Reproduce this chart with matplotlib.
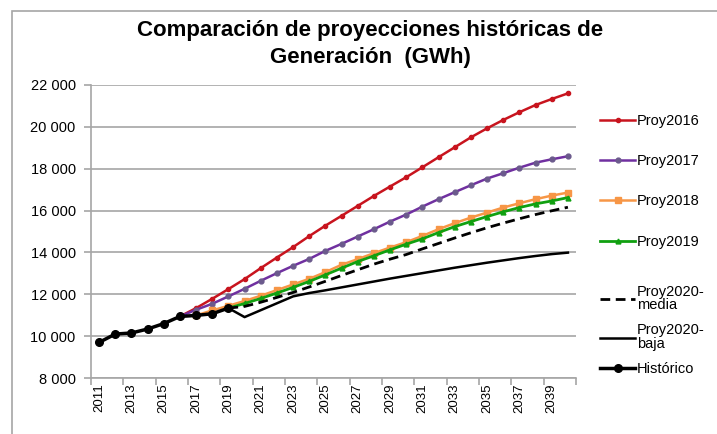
#%%
# imports
import numpy as np
import matplotlib
matplotlib.use('Agg')
import matplotlib.pyplot as plt
from matplotlib.patches import Rectangle
from matplotlib.ticker import FuncFormatter, FixedLocator

plt.rcParams['font.family'] = ['Liberation Sans', 'DejaVu Sans']

#%%
# data (GWh)
years = list(range(2011, 2041))

hist_years = list(range(2011, 2020))
historico = [9700, 10100, 10150, 10340, 10600, 10940, 10990, 11070, 11340]

p2016_years = list(range(2016, 2041))
proy2016 = [10940, 11340, 11785, 12248, 12725, 13250, 13757, 14253, 14780, 15280,
            15750, 16225, 16700, 17150, 17595, 18070, 18550, 19025, 19500, 19930,
            20330, 20700, 21045, 21330, 21600]

p2017_years = list(range(2016, 2041))
proy2017 = [10940, 11260, 11547, 11900, 12262, 12645, 13010, 13360, 13690, 14075,
            14410, 14760, 15110, 15475, 15810, 16190, 16545, 16880, 17210, 17530,
            17785, 18050, 18290, 18450, 18595]

p2018_years = list(range(2017, 2041))
proy2018 = [10990, 11230, 11450, 11680, 11930, 12200, 12470, 12740, 13060, 13410,
            13680, 13965, 14235, 14490, 14790, 15110, 15400, 15665, 15905, 16145,
            16350, 16545, 16715, 16860]

p2019_years = list(range(2019, 2041))
proy2019 = [11340, 11560, 11800, 12060, 12330, 12615, 12930, 13250, 13565, 13840,
            14125, 14395, 14650, 14950, 15235, 15475, 15715, 15940, 16145, 16320,
            16460, 16620]

p2020_years = list(range(2019, 2041))
proy2020_media = [11340, 11420, 11620, 11850, 12090, 12350, 12620, 12900, 13170, 13440,
                  13680, 13900, 14170, 14430, 14690, 14940, 15180, 15400, 15610, 15810,
                  15990, 16160]
proy2020_baja = [11340, 10910, 11240, 11570, 11900, 12060, 12190, 12330, 12470, 12610,
                 12750, 12880, 13010, 13140, 13270, 13390, 13510, 13620, 13730, 13830,
                 13920, 13990]

title = 'Comparación de proyecciones históricas de\nGeneración  (GWh)'

#%%
# figure
fig = plt.figure(figsize=(7.17, 4.34), dpi=100)
ax = fig.add_axes([91/717, 56/434, 485/717, 293/434])

# outer frame
fig.patches.append(Rectangle((12/717, -0.1), 1.2, (434-11)/434 + 0.1,
                             transform=fig.transFigure, fill=False,
                             edgecolor='#a6a6a6', linewidth=1.2))

grid_c = '#a6a6a6'

# series
l16, = ax.plot(p2016_years, proy2016, color='#c8141e', lw=1.8, marker='o', ms=3,
               label='Proy2016', zorder=3)
l17, = ax.plot(p2017_years, proy2017, color='#7030a0', lw=1.8, marker='o', ms=3.5,
               mfc='#6b5a8c', mec='#6b5a8c', label='Proy2017', zorder=3)
l18, = ax.plot(p2018_years, proy2018, color='#f79646', lw=1.8, marker='s', ms=4,
               label='Proy2018', zorder=3)
l19, = ax.plot(p2019_years, proy2019, color='#10a010', lw=2.0, marker='^', ms=3.5,
               label='Proy2019', zorder=4)
lmed, = ax.plot(p2020_years, proy2020_media, color='black', lw=2.0, ls=(0, (3.5, 2)),
                label='Proy2020-\nmedia', zorder=4)
lbaj, = ax.plot(p2020_years, proy2020_baja, color='black', lw=1.8,
                label='Proy2020-\nbaja', zorder=4)
lhis, = ax.plot(hist_years, historico, color='black', lw=2.5, marker='o', ms=5.5,
                label='Histórico', zorder=5)

# axes
ax.set_xlim(2010.5, 2040.5)
ax.set_ylim(8000, 22000)
ax.set_yticks(np.arange(8000, 22001, 2000))
ax.yaxis.set_major_formatter(FuncFormatter(lambda v, p: f'{v:,.0f}'.replace(',', ' ')))
ax.grid(axis='y', color=grid_c, lw=1.2)
ax.set_axisbelow(True)

# tick marks between categories, labels on categories
ax.xaxis.set_major_locator(FixedLocator(np.arange(2010.5, 2041, 2)))
ax.xaxis.set_minor_locator(FixedLocator(years[::2]))
ax.set_xticklabels([], minor=False)
ax.set_xticklabels([str(y) for y in years[::2]], minor=True, rotation=90, fontsize=9.5)
ax.tick_params(axis='x', which='major', length=5, color=grid_c, width=1.2)
ax.tick_params(axis='x', which='minor', length=0, pad=4)
ax.tick_params(axis='y', length=5, color=grid_c, width=1.2, labelsize=10.5, pad=6)

for s in ['top', 'right']:
    ax.spines[s].set_visible(False)
for s in ['left', 'bottom']:
    ax.spines[s].set_color(grid_c)
    ax.spines[s].set_linewidth(1.2)

# title
fig.text(370/717, 1 - 44/434, title, ha='center', va='center', fontsize=16,
         fontweight='bold', linespacing=1.4)

# legend, in two blocks to get the spacing
leg1 = fig.legend(handles=[l16, l17, l18, l19], loc='upper left',
                  bbox_to_anchor=(600/717, 1 - 114/434), frameon=False, fontsize=10.5,
                  labelspacing=1.8, handlelength=2.4, handletextpad=0.15,
                  borderaxespad=0, borderpad=0)
leg2 = fig.legend(handles=[lmed, lbaj, lhis], loc='upper left',
                  bbox_to_anchor=(600/717, 1 - 285/434), frameon=False, fontsize=10.5,
                  labelspacing=0.75, handlelength=2.4, handletextpad=0.15,
                  borderaxespad=0, borderpad=0)
for t in leg2.get_texts():
    t.set_linespacing(0.95)

# save
plt.savefig('out.png', dpi=100)
plt.close()
